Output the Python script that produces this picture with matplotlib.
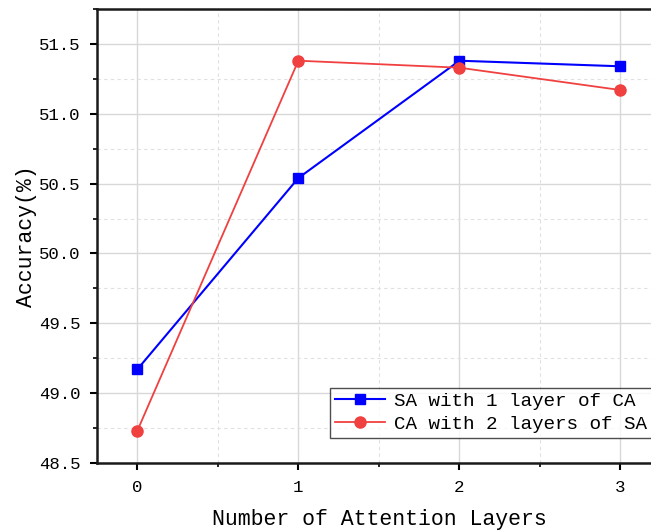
import matplotlib
matplotlib.use("Agg")
import matplotlib.pyplot as plt
from matplotlib.ticker import MultipleLocator

plt.rcParams['font.family'] = ['Liberation Mono', 'DejaVu Sans']

# data
layers = [0, 1, 2, 3]
sa_with_ca = [49.17, 50.54, 51.38, 51.34]
ca_with_sa = [48.73, 51.38, 51.33, 51.17]
labels = ["SA with 1 layer of CA", "CA with 2 layers of SA"]

fig = plt.figure(figsize=(6.51, 5.31), dpi=100)
# axes runs a little past the right edge, like the cropped original
ax = fig.add_axes([0.149, 0.128, 0.866, 0.855])

ax.plot(layers, sa_with_ca, color='#0000FF', lw=1.5, marker='s', ms=7, label=labels[0], zorder=3)
ax.plot(layers, ca_with_sa, color='#F04040', lw=1.3, marker='o', ms=8, label=labels[1], zorder=3)

ax.set_xlim(-0.25, 3.25)
ax.set_ylim(48.5, 51.75)
ax.xaxis.set_major_locator(MultipleLocator(1))
ax.xaxis.set_minor_locator(MultipleLocator(0.5))
ax.yaxis.set_major_locator(MultipleLocator(0.5))
ax.yaxis.set_minor_locator(MultipleLocator(0.25))
ax.yaxis.set_major_formatter(matplotlib.ticker.FormatStrFormatter('%.1f'))

ax.grid(which='major', color='#d8d8d8', lw=1.0, ls='-')
ax.grid(which='minor', color='#e0e0e0', lw=0.8, ls=(0, (3, 3)))
ax.set_axisbelow(True)

for s in ['left', 'bottom', 'top', 'right']:
    ax.spines[s].set_linewidth(1.8)
    ax.spines[s].set_color('#1a1a1a')

ax.tick_params(which='major', direction='out', length=5, width=1.5, labelsize=12.5, pad=7)
ax.tick_params(which='minor', direction='out', length=3, width=1.2)

ax.set_xlabel("Number of Attention Layers", fontsize=15.5, labelpad=10)
ax.set_ylabel("Accuracy(%)", fontsize=15.5, labelpad=1)

leg = ax.legend(loc='lower right', bbox_to_anchor=(0.985, 0.055), borderaxespad=0,
                fancybox=False, edgecolor='#222222', fontsize=13.9,
                handlelength=2.6, borderpad=0.25, labelspacing=0.3, handletextpad=0.5)
leg.get_frame().set_linewidth(1.0)

fig.savefig("out.png", dpi=100)
